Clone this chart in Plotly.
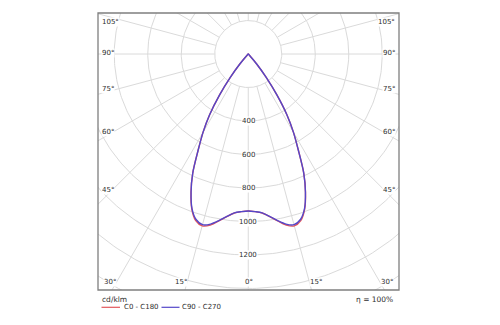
import numpy as np
import plotly.graph_objects as go

# Luminous intensity distribution (cd/klm) versus gamma angle from nadir
gamma_deg = [0, 2.5, 5, 7.5, 10, 12.5, 15, 17.5, 20, 22.5, 25, 27.5, 30,
             32.5, 35, 37.5, 40, 42.5, 45]
c0_c180 = [937, 942, 953, 979, 1012, 1046, 1062, 1043, 985, 893, 784, 648,
           540, 428, 298, 176, 80, 12, 0]
c90_c270 = [937, 942, 952, 978, 1010, 1040, 1055, 1036, 982, 892, 784, 648,
            540, 428, 298, 176, 80, 12, 0]

ring_values = [200, 400, 600, 800, 1000, 1200, 1400, 1600]
ring_labels = [400, 600, 800, 1000, 1200]
spoke_angles = list(range(0, 360, 15))
side_labels = ["105°", "90°", "75°", "60°", "45°"]
bottom_labels = ["30°", "15°", "0°", "15°", "30°"]
series_names = ["C0 - C180", "C90 - C270"]
efficiency = "η = 100%"
unit = "cd/klm"

RED = "#e2575c"
BLUE = "#5447c9"
GRID = "#dadada"
TEXT = "#2e2e2e"
FONT = "DejaVu Sans"

# plot area in pixels
W, H = 500, 325
L, R, T, B = 98, 101, 13, 35
PW, PH = W - L - R, H - T - B
X_RANGE = [-897, 900]
Y_RANGE = [-1409, 245]


def px(xp, yp):
    """page pixel -> paper coordinates"""
    return (xp - L) / PW, (H - B - yp) / PH


fig = go.Figure()

# rings
t = np.linspace(0, 2 * np.pi, 361)
for r in ring_values:
    fig.add_trace(go.Scatter(x=r * np.cos(t), y=r * np.sin(t), mode="lines",
                             line=dict(color=GRID, width=1), hoverinfo="skip",
                             showlegend=False))

# spokes every 15 degrees, starting from the innermost ring
for a in spoke_angles:
    ar = np.radians(a)
    r0, r1 = ring_values[0], 3000
    fig.add_trace(go.Scatter(x=[r0 * np.sin(ar), r1 * np.sin(ar)],
                             y=[-r0 * np.cos(ar), -r1 * np.cos(ar)],
                             mode="lines", line=dict(color=GRID, width=1),
                             hoverinfo="skip", showlegend=False))


def curve(values):
    g = np.radians(np.array(gamma_deg, dtype=float))
    v = np.array(values, dtype=float)
    ang = np.concatenate([-g[::-1], g[1:]])
    val = np.concatenate([v[::-1], v[1:]])
    return val * np.sin(ang), -val * np.cos(ang)


for name, vals, col in [(series_names[0], c0_c180, RED),
                        (series_names[1], c90_c270, BLUE)]:
    x, y = curve(vals)
    fig.add_trace(go.Scatter(x=x, y=y, mode="lines", name=name,
                             line=dict(color=col, width=1.4, shape="spline",
                                       smoothing=0.8),
                             showlegend=False))

annotations = []


def label(xp, yp, text, xanchor="center", size=7):
    xx, yy = px(xp, yp)
    annotations.append(dict(x=xx, y=yy, xref="paper", yref="paper", text=text,
                            showarrow=False, xanchor=xanchor, yanchor="middle",
                            bgcolor="white", borderpad=0,
                            font=dict(family=FONT, size=size, color=TEXT)))


# ring value labels along the 0 degree spoke
for v in ring_labels:
    annotations.append(dict(x=0, y=-v, xref="x", yref="y", text=str(v),
                            showarrow=False, xanchor="center",
                            yanchor="middle", bgcolor="white", borderpad=0,
                            font=dict(family=FONT, size=7, color=TEXT)))

# angle labels on the left and right frame edges
side_y = [21.7, 53.3, 89.3, 132.3, 190]
for lab, yp in zip(side_labels, side_y):
    label(100.5, yp, lab, "left")
    label(395.5, yp, lab, "right")

# angle labels along the bottom edge
bottom_x = [109.5, 181, 249, 316, 387]
for lab, xp in zip(bottom_labels, bottom_x):
    label(xp, 282.3, lab)

# unit and efficiency
label(101, 299, unit, "left", 7.5)
label(394, 299, efficiency, "right", 7.5)

# legend row
shapes = []
legend_items = [(series_names[0], RED, 101.5, 120, 122.5),
                (series_names[1], BLUE, 161.5, 179.5, 181)]
for name, col, x0, x1, xt in legend_items:
    a0, yl = px(x0, 307.3)
    a1, _ = px(x1, 307.3)
    shapes.append(dict(type="line", xref="paper", yref="paper",
                       x0=a0, x1=a1, y0=yl, y1=yl,
                       line=dict(color=col, width=1.2)))
    label(xt, 307.3, name, "left", 7)

# frame
shapes.append(dict(type="rect", xref="paper", yref="paper", x0=0, x1=1,
                   y0=0, y1=1, line=dict(color="#7f7f7f", width=1.3)))

fig.update_layout(
    width=W, height=H,
    margin=dict(l=L, r=R, t=T, b=B),
    paper_bgcolor="white", plot_bgcolor="white",
    xaxis=dict(range=X_RANGE, visible=False, fixedrange=True),
    yaxis=dict(range=Y_RANGE, visible=False, fixedrange=True),
    annotations=annotations, shapes=shapes,
    showlegend=False,
)

fig.write_html("out.html")
